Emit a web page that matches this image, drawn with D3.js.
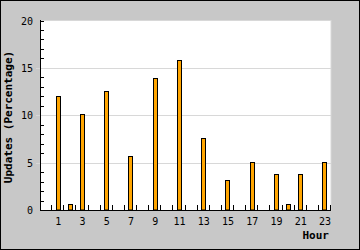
<!DOCTYPE html>
<html><head><meta charset="utf-8">
<script src="https://cdn.jsdelivr.net/npm/d3@7/dist/d3.min.js"></script>
<style>html,body{margin:0;padding:0;background:#fff}svg{display:block}</style>
</head><body>
<svg id="c" width="360" height="250"></svg>
<script>
const hours = d3.range(0, 24);
const values = [0, 12.0, 0.6, 10.1, 0, 12.6, 0, 5.7, 0, 13.9, 0, 15.8, 0, 7.6, 0, 3.2, 0, 5.1, 0, 3.8, 0.6, 3.8, 0, 5.1];
const xTickLabels = [1, 3, 5, 7, 9, 11, 13, 15, 17, 19, 21, 23];
const yTicks = [0, 5, 10, 15, 20];
const xTitle = "Hour";
const yTitle = "Updates (Percentage)";

const svg = d3.select("#c");
const L = 40, R = 331, T = 20, B = 210;
const mono = "'DejaVu Sans Mono', monospace";

svg.append("rect").attr("x", 0.5).attr("y", 0.5).attr("width", 359).attr("height", 249)
  .attr("fill", "#c8c8c8").attr("stroke", "#000");
svg.append("rect").attr("x", L + 0.5).attr("y", T + 0.5).attr("width", R - L - 0.5).attr("height", B - T)
  .attr("fill", "#fff").attr("stroke", "#d8d8d8");

const x = d3.scaleBand().domain(hours).range([L, R]).paddingInner(0).paddingOuter(0);
const y = d3.scaleLinear().domain([0, 20]).range([B, T + 0.5]);

// gridlines
svg.append("g").selectAll("line").data(yTicks.filter(v => v > 0 && v < 20)).join("line")
  .attr("x1", L - 4).attr("x2", R).attr("y1", d => Math.round(y(d)) + 0.5).attr("y2", d => Math.round(y(d)) + 0.5)
  .attr("stroke", "#d8d8d8");

// minor ticks (inward)
const minor = d3.range(1, 21).filter(v => v % 5 !== 0 || v === 20);
svg.append("g").selectAll("line").data(minor).join("line")
  .attr("x1", L).attr("x2", L + 4).attr("y1", d => Math.round(y(d)) + 0.5).attr("y2", d => Math.round(y(d)) + 0.5)
  .attr("stroke", "#000");

// y tick labels
svg.append("g").selectAll("text").data(yTicks).join("text")
  .attr("x", 33).attr("y", d => y(d) + 4).attr("text-anchor", "end")
  .attr("font-family", mono).attr("font-size", 10).attr("fill", "#000").text(d => d);

// bars
svg.append("g").selectAll("rect").data(hours.filter(h => values[h] > 0)).join("rect")
  .attr("x", h => Math.round(x(h) + x.bandwidth() / 2 - 2.5) + 0.5)
  .attr("y", h => Math.round(y(values[h])) + 0.5)
  .attr("width", 4)
  .attr("height", h => B - Math.round(y(values[h])) - 0.5)
  .attr("fill", "#ffa500").attr("stroke", "#000").attr("stroke-width", 1);

// x ticks at band boundaries (upward)
svg.append("g").selectAll("line").data(hours.slice(1).concat([24])).join("line")
  .attr("x1", h => Math.round(h < 24 ? x(h) : R) - 0.5).attr("x2", h => Math.round(h < 24 ? x(h) : R) - 0.5)
  .attr("y1", B).attr("y2", B - 5).attr("stroke", "#000");

// axes lines
svg.append("line").attr("x1", L + 0.5).attr("x2", L + 0.5).attr("y1", T).attr("y2", B + 1).attr("stroke", "#000");
svg.append("line").attr("x1", L).attr("x2", R).attr("y1", B + 0.5).attr("y2", B + 0.5).attr("stroke", "#000");

// x tick labels
svg.append("g").selectAll("text").data(xTickLabels).join("text")
  .attr("x", h => x(h) + x.bandwidth() / 2).attr("y", 225).attr("text-anchor", "middle")
  .attr("font-family", mono).attr("font-size", 10).attr("fill", "#000").text(d => d);

// titles
svg.append("text").attr("x", 329).attr("y", 239).attr("text-anchor", "end")
  .attr("font-family", mono).attr("font-size", 11).attr("font-weight", "bold").text(xTitle);
svg.append("text").attr("transform", "translate(12,117) rotate(-90)").attr("text-anchor", "middle")
  .attr("font-family", mono).attr("font-size", 11).attr("font-weight", "bold").text(yTitle);
</script>
</body></html>
